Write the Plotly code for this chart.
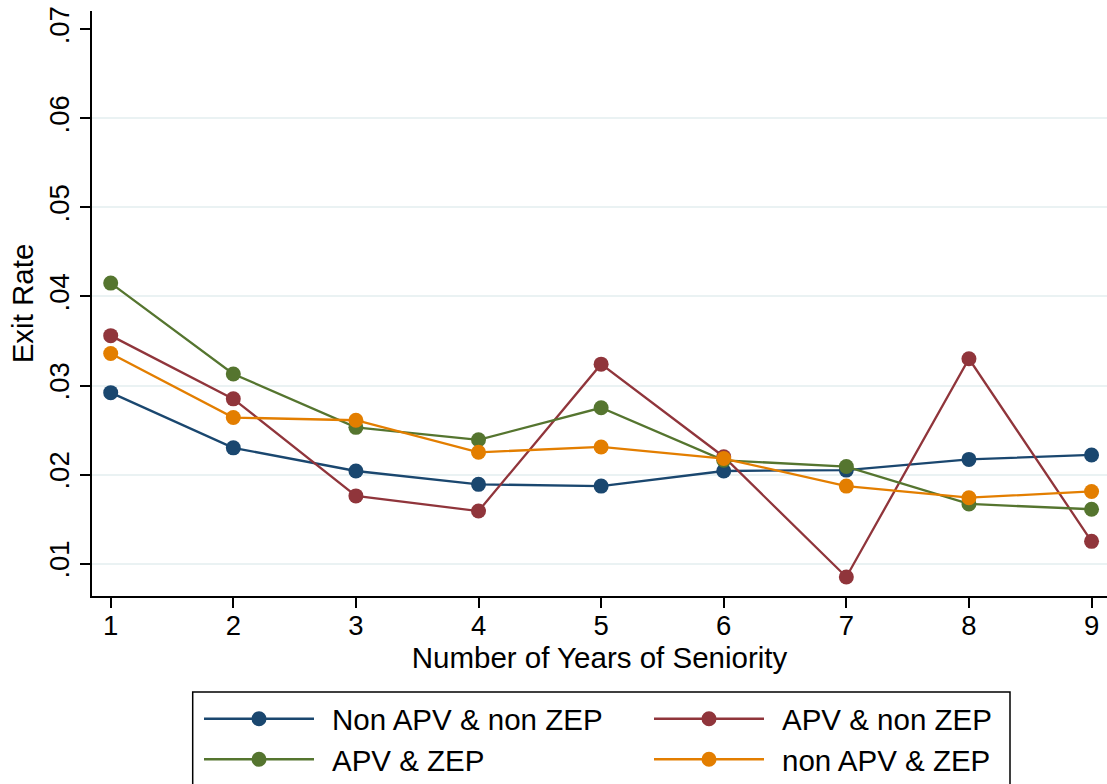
import plotly.graph_objects as go

# ---- data ----
years = [1, 2, 3, 4, 5, 6, 7, 8, 9]
non_apv_non_zep = [0.0292, 0.0230, 0.0204, 0.0189, 0.0187, 0.0204, 0.0205, 0.0217, 0.0222]
apv_non_zep = [0.0356, 0.0285, 0.0176, 0.0159, 0.0324, 0.0220, 0.0085, 0.0330, 0.0125]
apv_zep = [0.0415, 0.0313, 0.0253, 0.0239, 0.0275, 0.0216, 0.0209, 0.0167, 0.0161]
non_apv_zep = [0.0336, 0.0264, 0.0261, 0.0225, 0.0231, 0.0218, 0.0187, 0.0174, 0.0181]

series_names = ["Non APV & non ZEP", "APV & non ZEP", "APV & ZEP", "non APV & ZEP"]
series_values = [non_apv_non_zep, apv_non_zep, apv_zep, non_apv_zep]
series_colors = ["#1a476f", "#90353b", "#55752f", "#e37e00"]

y_tickvals = [0.01, 0.02, 0.03, 0.04, 0.05, 0.06, 0.07]
y_ticktext = [".01", ".02", ".03", ".04", ".05", ".06", ".07"]
grid_vals = [0.01, 0.02, 0.03, 0.04, 0.05, 0.06]

FONT = "Liberation Sans, Arial, sans-serif"
W, H = 1107, 784
L, R, T, B = 92, 1107, 11, 596

fig = go.Figure()
for name, vals, col in zip(series_names, series_values, series_colors):
    fig.add_trace(go.Scatter(
        x=years, y=vals, name=name, mode="lines+markers",
        line=dict(color=col, width=2.3),
        marker=dict(color=col, size=15, line=dict(width=0)),
        showlegend=False, yaxis="y", cliponaxis=False,
    ))

# invisible trace to anchor grid axis
fig.add_trace(go.Scatter(x=[years[0]], y=[grid_vals[0]], yaxis="y2",
                         mode="markers", marker=dict(opacity=0),
                         showlegend=False, hoverinfo="skip"))

yrange = [0.00636, 0.07206]
fig.update_layout(
    width=W, height=H,
    paper_bgcolor="white", plot_bgcolor="white",
    margin=dict(l=L, r=W - R, t=T, b=H - B),
    font=dict(family=FONT, color="black"),
    xaxis=dict(
        range=[0.8475, 9.126], tickvals=years,
        ticks="outside", ticklen=10, tickwidth=1.5, tickcolor="black",
        tickfont=dict(size=27.5), ticklabelstandoff=-6,
        showline=True, linecolor="black", linewidth=1.5,
        showgrid=False, zeroline=False,
        title=dict(text="Number of Years of Seniority", font=dict(size=29.5), standoff=4),
    ),
    yaxis=dict(
        range=yrange, tickvals=y_tickvals, ticktext=y_ticktext,
        ticks="outside", ticklen=10, tickwidth=1.5, tickcolor="black",
        tickfont=dict(size=27.5), tickangle=-90,
        showline=True, linecolor="black", linewidth=1.5,
        showgrid=False, zeroline=False,
        title=dict(text="Exit Rate", font=dict(size=29.5), standoff=2),
    ),
    yaxis2=dict(
        range=yrange, overlaying="y", tickvals=grid_vals,
        showticklabels=False, showgrid=True, gridcolor="#eaf2f3", gridwidth=2,
        zeroline=False, showline=False, ticks="",
    ),
    showlegend=False,
)

# ---- legend (drawn as a boxed key below the plot) ----
def px_x(p):
    return (p - L) / (R - L)

def px_y(p):
    return (B - p) / (B - T)

box = dict(x0=192.7, x1=1010, y0=692, y1=820)
fig.add_shape(type="rect", xref="paper", yref="paper",
              x0=px_x(box["x0"]), x1=px_x(box["x1"]),
              y0=px_y(box["y0"]), y1=px_y(box["y1"]),
              line=dict(color="black", width=1.5), fillcolor="rgba(0,0,0,0)")

slot_cols = [204, 654]
slot_rows = [718.7, 759.3]
for i, (name, col) in enumerate(zip(series_names, series_colors)):
    cx = slot_cols[i % 2]
    ry = slot_rows[i // 2]
    fig.add_shape(type="line", xref="paper", yref="paper",
                  x0=px_x(cx), x1=px_x(cx + 110), y0=px_y(ry), y1=px_y(ry),
                  line=dict(color=col, width=2.5))
    fig.add_shape(type="circle", xref="paper", yref="paper",
                  xsizemode="pixel", ysizemode="pixel",
                  xanchor=px_x(cx + 55), yanchor=px_y(ry),
                  x0=-7.5, x1=7.5, y0=-7.5, y1=7.5,
                  fillcolor=col, line=dict(width=0))
    fig.add_annotation(xref="paper", yref="paper",
                       x=px_x(cx + 126), y=px_y(ry + 1),
                       xanchor="left", yanchor="middle",
                       text=name, showarrow=False,
                       font=dict(size=29.5, family=FONT, color="black"))

fig.write_html(
    "out.html",
    config={"displayModeBar": False},
    post_script="document.body.style.margin='0';document.body.style.overflow='hidden';",
)
